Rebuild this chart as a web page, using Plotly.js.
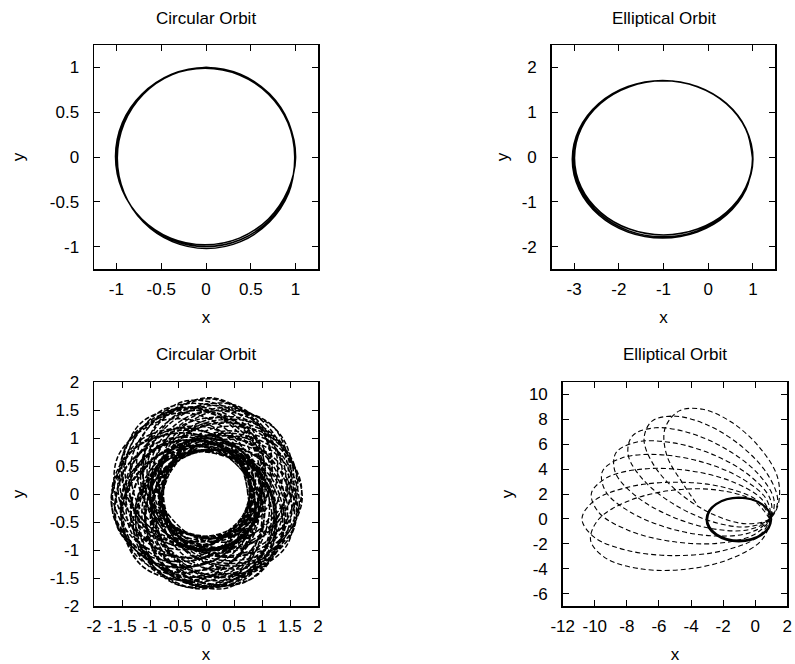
<!DOCTYPE html>
<html><head><meta charset="utf-8">
<script src="https://cdn.plot.ly/plotly-3.0.1.min.js"></script>
<style>html,body{margin:0;padding:0;background:#fff}#chart{width:795px;height:664px}</style>
</head><body><div id="chart"></div>
<script>
// ---------- DATA ----------
// Circular orbit (solid, a few nearly coincident loops)
const circX = [1,0.924,0.707,0.383,0,-0.383,-0.707,-0.924,-1,-0.924,-0.707,-0.383,0,0.383,0.707,0.924,
  0.99,0.914,0.697,0.373,-0.01,-0.393,-0.717,-0.934,-1.01,-0.934,-0.717,-0.393,-0.01,0.373,0.697,0.914,
  1.0,0.924,0.708,0.386,0.005,-0.376,-0.699,-0.914,-0.99,-0.914,-0.699,-0.376,0.005,0.386,0.708,0.924,1.0];
const circY = [0,0.383,0.707,0.924,1,0.924,0.707,0.383,0,-0.383,-0.707,-0.924,-1,-0.924,-0.707,-0.383,
  0.005,0.382,0.701,0.915,0.99,0.915,0.701,0.382,0.005,-0.372,-0.691,-0.905,-0.98,-0.905,-0.691,-0.372,
  -0.012,0.375,0.702,0.921,0.998,0.921,0.702,0.375,-0.012,-0.399,-0.726,-0.945,-1.022,-0.945,-0.726,-0.399,-0.012];

// Elliptical orbit (solid, a few nearly coincident loops)
const ellX = [0.99,0.839,0.407,-0.238,-1,-1.762,-2.407,-2.839,-2.99,-2.839,-2.407,-1.762,-1,-0.238,0.407,0.839,
  0.99,0.838,0.404,-0.244,-1.01,-1.776,-2.424,-2.858,-3.01,-2.858,-2.424,-1.776,-1.01,-0.244,0.404,0.838,
  1.0,0.846,0.408,-0.246,-1.02,-1.794,-2.448,-2.886,-3.04,-2.886,-2.448,-1.794,-1.02,-0.246,0.408,0.846,1.0];
const ellY = [-0.02,0.639,1.196,1.569,1.70,1.569,1.196,0.639,-0.02,-0.679,-1.236,-1.609,-1.74,-1.609,-1.236,-0.679,
  -0.04,0.626,1.19,1.568,1.70,1.568,1.19,0.626,-0.04,-0.706,-1.27,-1.648,-1.78,-1.648,-1.27,-0.706,
  -0.05,0.624,1.194,1.576,1.71,1.576,1.194,0.624,-0.05,-0.724,-1.294,-1.676,-1.81,-1.676,-1.294,-0.724,-0.05];

// Perturbed circular orbit (dashed): radius and angle step (degrees) along the path
const pertR = [
 0.75,0.79,0.93,1.18,1.52,1.70,1.53,1.19,0.94,0.80,
 0.78,0.82,0.95,1.20,1.50,1.68,1.51,1.21,0.96,0.81,
 0.82,0.86,0.98,1.21,1.47,1.62,1.49,1.22,0.99,0.85,
 0.76,0.80,0.94,1.19,1.54,1.72,1.55,1.20,0.93,0.79,
 0.90,0.93,1.05,1.24,1.44,1.55,1.46,1.25,1.06,0.94,
 0.75,0.78,0.92,1.18,1.51,1.70,1.52,1.17,0.93,0.79,
 0.85,0.88,1.02,1.25,1.52,1.66,1.53,1.24,1.01,0.89,
 0.78,0.83,0.96,1.20,1.52,1.68,1.50,1.19,0.95,0.82,
 0.76,0.81,0.94,1.21,1.53,1.72,1.54,1.19,0.94,0.80,
 0.82,0.87,0.99,1.21,1.48,1.61,1.47,1.20,0.98,0.86,
 0.95,0.98,1.07,1.23,1.38,1.45,1.39,1.24,1.08,0.97,
 0.75,0.79,0.93,1.17,1.52,1.69,1.51,1.18,0.92,0.78,
 0.79,0.82,0.96,1.21,1.51,1.68,1.52,1.20,0.97,0.83,
 0.76,0.80,0.95,1.20,1.55,1.71,1.53,1.21,0.94,0.81,
 0.86,0.89,1.03,1.25,1.51,1.66,1.52,1.26,1.02,0.88,
 0.81,0.86,0.99,1.22,1.48,1.63,1.48,1.21,1.00,0.86,
 0.75,0.80,0.93,1.19,1.52,1.70,1.51,1.18,0.92,0.79,
 0.89,0.94,1.05,1.23,1.45,1.56,1.45,1.24,1.04,0.93,
 0.78,0.82,0.97,1.20,1.50,1.67,1.51,1.20,0.96,0.82,
 0.77,0.80,0.94,1.20,1.54,1.72,1.54,1.19,0.95,0.80,
 0.75,0.79,0.92,1.18,1.53,1.70,1.52,1.18,0.93,0.78,
 0.82,0.85,0.99,1.21,1.49,1.62,1.48,1.22,0.99,0.86,
 0.85,0.90,1.02,1.24,1.52,1.65,1.52,1.25,1.03,0.89,
 0.78,0.82,0.96,1.19,1.51,1.68,1.51,1.21,0.96,0.81,
 0.76,0.81,0.94,1.20,1.53,1.71,1.55,1.20,0.94,0.80,
 0.94,0.98,1.08,1.22,1.37,1.45,1.38,1.23,1.07,0.98,
 0.75,0.79,0.93,1.18,1.52,1.70,1.52,1.19,0.93,0.79,
 0.78,0.83,0.95,1.20,1.51,1.69,1.50,1.20,0.96,0.82,
 0.82,0.86,0.98,1.22,1.48,1.62,1.49,1.21,0.99,0.85,
 0.76,0.80,0.94,1.19,1.54,1.72,1.53,1.20,0.95,0.80,
 0.90,0.94,1.04,1.24,1.45,1.55,1.44,1.24,1.05,0.93,
 0.75,0.78,0.93,1.18,1.51,1.70,1.52,1.18,0.92,0.79,
 0.85,0.89,1.02,1.25,1.53,1.66,1.51,1.25,1.02,0.88,
 0.78,0.82,0.96,1.21,1.51,1.68,1.51,1.19,0.96,0.82,
 0.76,0.80,0.95,1.20,1.54,1.72,1.54,1.21,0.94,0.80,
 0.82,0.86,0.99,1.21,1.47,1.62,1.48,1.21,0.98,0.86,
 0.75,0.79,0.93,1.18,1.52,1.71,1.52,1.18,0.93,0.79,
 0.78,0.82,0.96,1.20,1.50,1.68,1.52,1.20,0.95,0.82,
 0.76,0.81,0.94,1.20,1.54,1.72,1.54,1.20,0.94,0.80,
 0.85,0.89,1.02,1.25,1.52,1.66,1.52,1.25,1.02,0.89,
 0.80,0.84,0.95,1.15,1.38,1.50,1.39,1.16,0.96,0.83,
 0.88,0.92,1.06,1.29,1.56,1.70,1.57,1.28,1.05,0.93,
 1.00,1.04,1.16,1.35,1.55,1.65,1.56,1.34,1.15,1.03,
 0.77,0.80,0.91,1.09,1.30,1.40,1.29,1.10,0.92,0.81,
 0.75,0.79,0.93,1.18,1.51,1.70,1.52,1.19,0.92,0.79,
 0.80,0.83,0.96,1.15,1.39,1.51,1.38,1.15,0.95,0.84,
 0.88,0.93,1.05,1.28,1.56,1.69,1.56,1.29,1.06,0.92,
 0.76,0.80,0.94,1.20,1.53,1.72,1.54,1.19,0.94,0.81,
 0.99,1.04,1.15,1.35,1.56,1.66,1.55,1.35,1.16,1.04,
 0.77,0.81,0.91,1.09,1.29,1.41,1.30,1.09,0.91,0.80,
 0.78,0.82,0.96,1.20,1.51,1.68,1.51,1.20,0.96,0.82,
 0.88,0.92,1.05,1.29,1.56,1.70,1.56,1.28,1.06,0.93,
 0.80,0.84,0.95,1.16,1.38,1.50,1.38,1.15,0.95,0.83,
 0.85,0.89,1.02,1.25,1.52,1.66,1.52,1.25,1.02,0.89,
 1.00,1.04,1.16,1.34,1.55,1.65,1.55,1.35,1.16,1.03,
 0.77,0.80,0.92,1.09,1.30,1.40,1.30,1.09,0.91,0.81,
 0.88,0.92,1.06,1.28,1.57,1.70,1.56,1.29,1.05,0.92,
 0.76,0.80,0.95,1.20,1.54,1.72,1.53,1.20,0.94,0.80,
 0.80,0.84,0.95,1.15,1.39,1.50,1.38,1.16,0.95,0.84,
 1.00,1.03,1.16,1.35,1.55,1.65,1.56,1.34,1.15,1.04];
const pertDTheta = [
 0,38,36,38,37,39,36,38,37,37,
 38,36,37,39,36,38,37,38,36,37,
 36,38,38,37,39,36,37,37,39,38,
 37,37,39,36,38,37,38,36,37,38,
 39,36,37,38,37,36,39,37,38,36,
 36,37,38,38,36,39,37,36,38,39,
 38,37,36,39,37,38,36,37,38,37,
 37,39,37,36,38,37,39,36,37,38,
 36,38,37,38,39,36,37,38,36,39,
 38,36,39,37,37,38,36,39,37,37,
 37,38,36,38,37,39,38,36,37,38,
 39,37,38,36,38,37,36,39,38,36,
 36,39,37,38,36,38,37,37,39,37,
 38,37,36,39,38,36,39,37,36,38,
 37,36,38,37,39,37,38,36,38,37,
 36,38,39,36,37,38,37,39,36,38,
 38,37,37,38,36,39,36,38,37,38,
 37,38,36,37,39,38,37,36,38,38,
 39,36,38,37,37,36,39,38,37,37,
 36,37,39,38,36,38,37,37,38,39,
 38,39,36,37,38,37,36,38,39,36,
 37,36,38,39,37,36,38,37,37,39,
 36,38,37,36,39,38,37,38,36,38,
 38,37,39,37,36,37,38,39,36,37,
 37,39,36,38,38,36,37,38,39,36,
 39,36,37,37,38,39,36,37,38,38,
 36,38,38,39,36,37,39,36,37,38,
 38,37,36,38,37,38,37,39,36,38,
 37,38,39,36,37,36,38,37,39,37,
 36,39,37,38,38,37,36,38,37,39,
 38,36,38,37,39,36,38,37,36,38,
 37,37,36,39,38,38,37,36,39,37,
 39,38,37,36,37,39,36,38,37,36,
 36,37,38,39,36,38,39,37,36,38,
 38,36,37,38,39,37,36,39,38,37,
 37,39,38,36,37,38,37,36,39,38,
 36,38,36,39,38,37,38,37,37,39,
 38,37,39,37,36,36,39,38,37,37,
 37,36,38,38,39,37,36,37,38,39,
 39,38,36,37,37,38,37,39,36,38,
 38,37,39,36,37,38,36,38,39,37,
 36,39,37,38,36,37,39,37,38,38,
 37,38,36,39,38,36,37,38,37,39,
 39,36,38,37,37,39,38,36,37,38,
 38,37,37,36,39,38,36,39,37,38,
 36,38,39,37,38,36,37,38,39,37,
 37,36,38,39,37,38,39,36,38,37,
 39,38,36,37,38,37,36,39,37,38,
 38,36,37,38,36,39,38,37,39,37,
 36,37,39,38,37,36,38,39,37,38,
 37,39,38,36,38,37,36,38,37,39,
 38,37,36,39,37,38,37,36,39,38,
 39,36,37,38,39,37,38,37,36,38,
 36,38,38,37,36,39,37,38,38,37,
 37,37,39,36,38,38,36,39,37,38,
 38,39,37,38,36,37,39,36,38,37,
 36,38,37,39,38,36,38,37,39,37,
 39,37,36,38,37,39,37,38,36,38,
 37,36,39,37,38,38,36,37,39,38,
 38,38,37,36,39,37,38,36,37,39];

// Perturbed elliptical orbit (dashed): precessing loops
const precX = [
 0.9,-0.09,-2.32,-5.17,-7.90,-9.76,-10.26,-9.27,-7.05,-4.19,-1.47,0.40,
 0.9,0.12,-2.03,-4.95,-7.88,-10.02,-10.8,-10.02,-7.88,-4.95,-2.03,0.12,
 0.9,0.42,-1.42,-4.13,-6.97,-9.20,-10.21,-9.73,-7.89,-5.18,-2.33,-0.11,
 0.9,0.69,-0.87,-3.34,-6.08,-8.35,-9.53,-9.32,-7.77,-5.29,-2.55,-0.29,
 0.9,0.94,-0.32,-2.53,-5.11,-7.36,-8.68,-8.72,-7.46,-5.25,-2.67,-0.42,
 0.9,1.17,0.23,-1.68,-4.05,-6.23,-7.65,-7.92,-6.98,-5.07,-2.71,-0.52,
 0.9,1.40,0.78,-0.79,-2.89,-4.95,-6.43,-6.93,-6.31,-4.74,-2.64,-0.58,
 0.9,1.45,1.38,0.26,-1.44,-3.27,-4.74,-5.62,-5.51,-4.44,-3.70];
const precY = [
 0,1.47,2.31,2.30,1.44,-0.03,-1.73,-3.19,-4.03,-4.03,-3.17,-1.70,
 0,1.48,2.56,2.95,2.56,1.48,0,-1.48,-2.56,-2.95,-2.56,-1.48,
 0,1.56,2.98,3.88,4.01,3.34,2.06,0.49,-0.93,-1.82,-1.96,-1.29,
 0,1.59,3.27,4.58,5.17,4.88,3.80,2.20,0.53,-0.78,-1.37,-1.09,
 0,1.58,3.45,5.11,6.11,6.18,5.31,3.73,1.86,0.21,-0.79,-0.87,
 0,1.53,3.55,5.51,6.89,7.32,6.68,5.15,3.14,1.18,-0.21,-0.64,
 0,1.45,3.56,5.77,7.49,8.25,7.86,6.41,4.30,2.09,0.37,-0.39,
 0,1.25,3.40,5.76,7.74,8.81,8.68,7.28,5.10,2.71,1.30];

// Tick labels
const tlTicks = [-1,-0.5,0,0.5,1], tlText = ['-1','-0.5','0','0.5','1'];
const trXTicks = [-3,-2,-1,0,1], trXText = ['-3','-2','-1','0','1'];
const trYTicks = [-2,-1,0,1,2], trYText = ['-2','-1','0','1','2'];
const blTicks = [-2,-1.5,-1,-0.5,0,0.5,1,1.5,2], blText = ['-2','-1.5','-1','-0.5','0','0.5','1','1.5','2'];
const brXTicks = [-12,-10,-8,-6,-4,-2,0,2], brXText = ['-12','-10','-8','-6','-4','-2','0','2'];
const brYTicks = [-6,-4,-2,0,2,4,6,8,10], brYText = ['-6','-4','-2','0','2','4','6','8','10'];
const titles = ['Circular Orbit','Elliptical Orbit','Circular Orbit','Elliptical Orbit'];

// ---------- BUILD ----------
let th = 0; const pertX = [], pertY = [];
for (let i = 0; i < pertR.length; i++) {
  th += pertDTheta[i];
  const a = th * Math.PI / 180;
  pertX.push(pertR[i] * Math.cos(a));
  pertY.push(pertR[i] * Math.sin(a));
}

const W = 795, H = 664;
const FONT = 'Liberation Sans, Arial, Helvetica, sans-serif';
const fx = p => p / W, fy = p => 1 - p / H;
function axis(d0, d1, range, vals, text, title, anchor, isY, standoff) {
  return {
    domain: isY ? [fy(d1), fy(d0)] : [fx(d0), fx(d1)], anchor: anchor,
    range: range, tickmode: 'array', tickvals: vals, ticktext: text,
    ticks: 'inside', ticklen: 6, tickwidth: 1, tickcolor: '#000',
    showline: true, linecolor: '#000', linewidth: 1.5, mirror: 'allticks',
    showgrid: false, zeroline: false, fixedrange: true, automargin: false,
    ticklabelstandoff: isY ? 10 : 4,
    tickfont: {family: FONT, size: 17, color: '#000'},
    title: {text: title, font: {family: FONT, size: 17, color: '#000'}, standoff: standoff}
  };
}
const solid = {color: '#000', width: 1.5, shape: 'spline'};
const traces = [
  {x: circX, y: circY, xaxis: 'x', yaxis: 'y', mode: 'lines', line: solid},
  {x: ellX, y: ellY, xaxis: 'x2', yaxis: 'y2', mode: 'lines', line: solid},
  {x: pertX, y: pertY, xaxis: 'x3', yaxis: 'y3', mode: 'lines', line: {color: '#000', width: 1.5, dash: '5px,2px', shape: 'spline'}},
  {x: circX, y: circY, xaxis: 'x3', yaxis: 'y3', mode: 'lines', line: solid},
  {x: precX, y: precY, xaxis: 'x4', yaxis: 'y4', mode: 'lines', line: {color: '#000', width: 1.1, dash: '5px,3px', shape: 'spline'}},
  {x: ellX, y: ellY, xaxis: 'x4', yaxis: 'y4', mode: 'lines', line: {color: '#000', width: 2, shape: 'spline'}}
];
const layout = {
  width: W, height: H, margin: {l: 0, r: 0, t: 0, b: 0},
  paper_bgcolor: '#fff', plot_bgcolor: '#fff', showlegend: false,
  font: {family: FONT, size: 17, color: '#000'},
  xaxis: axis(94, 318, [-1.25, 1.25], tlTicks, tlText, 'x', 'y', false, 13),
  yaxis: axis(45, 269, [-1.25, 1.25], tlTicks, tlText, 'y', 'x', true, 21),
  xaxis2: axis(551.7, 775.3, [-3.5, 1.5], trXTicks, trXText, 'x', 'y2', false, 13),
  yaxis2: axis(45, 269, [-2.5, 2.5], trYTicks, trYText, 'y', 'x2', true, 8),
  xaxis3: axis(94, 318, [-2, 2], blTicks, blText, 'x', 'y3', false, 13),
  yaxis3: axis(382, 606, [-2, 2], blTicks, blText, 'y', 'x3', true, 21),
  xaxis4: axis(562.7, 787.3, [-12, 2], brXTicks, brXText, 'x', 'y4', false, 13),
  yaxis4: axis(382, 606, [-7, 11], brYTicks, brYText, 'y', 'x4', true, 11),
  annotations: [
    {text: titles[0], x: fx(206), y: fy(18)},
    {text: titles[1], x: fx(663.5), y: fy(18)},
    {text: titles[2], x: fx(206), y: fy(354)},
    {text: titles[3], x: fx(675), y: fy(354)}
  ].map(a => Object.assign(a, {xref: 'paper', yref: 'paper', showarrow: false, xanchor: 'center', yanchor: 'middle', font: {family: FONT, size: 17, color: '#000'}}))
};
Plotly.newPlot('chart', traces, layout, {staticPlot: true, displayModeBar: false});
</script></body></html>
